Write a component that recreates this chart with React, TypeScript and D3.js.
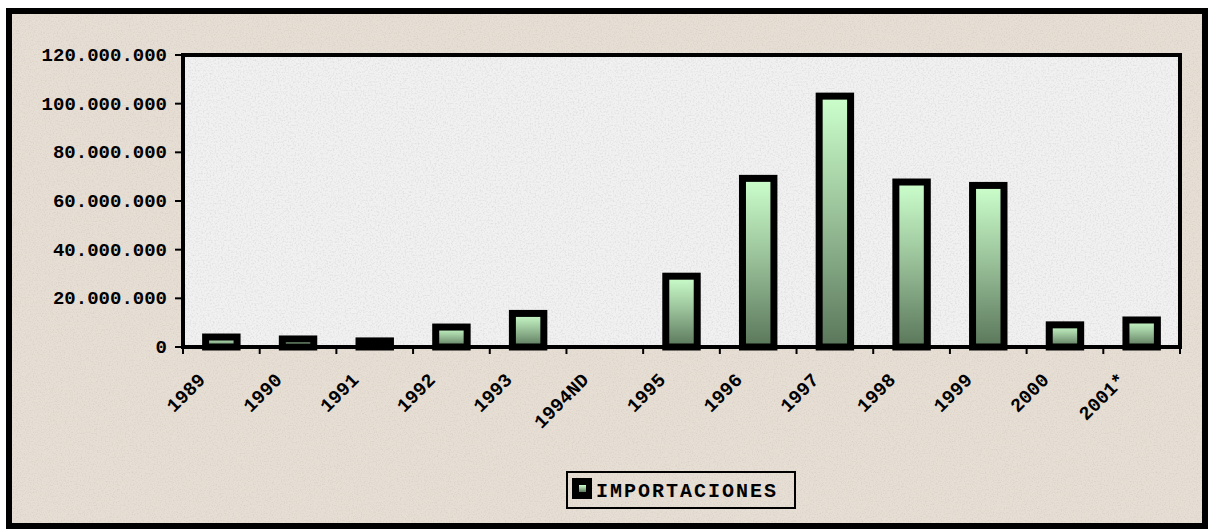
import React from "react";
import * as d3 from "d3";

const categories = ["1989", "1990", "1991", "1992", "1993", "1994ND", "1995", "1996", "1997", "1998", "1999", "2000", "2001*"];
const importaciones = [4100000, 3300000, 2500000, 8200000, 13800000, 0, 29100000, 69300000, 103100000, 67800000, 66400000, 9100000, 11100000];
const yTicks = [0, 20000000, 40000000, 60000000, 80000000, 100000000, 120000000];
const seriesName = "IMPORTACIONES";

const W = 1214;
const H = 529;
const plot = { left: 183, right: 1180, top: 55, bottom: 347 };
const FONT = "'Liberation Mono', 'DejaVu Sans Mono', monospace";

const locale = d3.formatLocale({ decimal: ",", thousands: ".", grouping: [3], currency: ["", ""] });
const fmt = locale.format(",d");

export default function App() {
  const x = d3.scaleBand<string>().domain(categories).range([plot.left, plot.right]).padding(0);
  const y = d3.scaleLinear().domain([0, 120000000]).range([plot.bottom, plot.top]);
  const bw = x.bandwidth() * 0.41;

  return (
    <svg width={W} height={H} style={{ position: "absolute", left: 0, top: 0 }}>
      <defs>
        <linearGradient id="barGrad" x1="0" y1="0" x2="0" y2="1">
          <stop offset="0" stopColor="#ccffcc" />
          <stop offset="0.45" stopColor="#9cc49c" />
          <stop offset="1" stopColor="#5a765a" />
        </linearGradient>
        <filter id="noiseOuter" x="0" y="0" width="100%" height="100%">
          <feTurbulence type="fractalNoise" baseFrequency="0.75" numOctaves="2" seed="3" result="t" />
          <feColorMatrix type="matrix" values="0 0 0 0 0.55  0 0 0 0 0.47  0 0 0 0 0.40  0 0 0 -2.2 1.25" />
        </filter>
        <filter id="noisePlot" x="0" y="0" width="100%" height="100%">
          <feTurbulence type="fractalNoise" baseFrequency="0.6" numOctaves="2" seed="7" result="t" />
          <feColorMatrix type="matrix" values="0 0 0 0 0.6  0 0 0 0 0.6  0 0 0 0 0.6  0 0 0 -2.4 1.35" />
        </filter>
      </defs>

      {/* outer background */}
      <rect x={0} y={0} width={W} height={H} fill="#ffffff" />
      <rect x={9} y={11} width={1196} height={515} fill="#e7dfd5" />
      <rect x={9} y={11} width={1196} height={515} filter="url(#noiseOuter)" opacity={0.35} />
      <rect x={9} y={11} width={1196} height={515} fill="none" stroke="#000" strokeWidth={6} />

      {/* plot area */}
      <rect x={plot.left} y={plot.top} width={plot.right - plot.left} height={plot.bottom - plot.top} fill="#f1f1f1" />
      <rect x={plot.left} y={plot.top} width={plot.right - plot.left} height={plot.bottom - plot.top} filter="url(#noisePlot)" opacity={0.45} />
      <rect x={plot.left} y={plot.top} width={plot.right - plot.left} height={plot.bottom - plot.top} fill="none" stroke="#000" strokeWidth={4} />

      {/* y axis ticks and labels */}
      {yTicks.map((t) => (
        <g key={t}>
          <line x1={plot.left - 8} x2={plot.left} y1={y(t)} y2={y(t)} stroke="#000" strokeWidth={2} />
          <text
            x={167}
            y={y(t)}
            dy="0.32em"
            textAnchor="end"
            fontFamily={FONT}
            fontWeight="bold"
            fontSize={19}
            fill="#000"
          >
            {fmt(t)}
          </text>
        </g>
      ))}

      {/* bars */}
      {categories.map((c, i) => {
        const v = importaciones[i];
        if (v <= 0) return null;
        const cx = (x(c) as number) + x.bandwidth() / 2;
        return (
          <rect
            key={c}
            x={cx - bw / 2}
            y={y(v)}
            width={bw}
            height={y(0) - y(v)}
            fill="url(#barGrad)"
            stroke="#000"
            strokeWidth={7}
          />
        );
      })}

      {/* x axis */}
      <line x1={plot.left} x2={plot.right} y1={plot.bottom} y2={plot.bottom} stroke="#000" strokeWidth={4} />
      {categories.concat([""]).map((c, i) => {
        const xx = plot.left + i * x.bandwidth();
        return <line key={"t" + i} x1={xx} x2={xx} y1={plot.bottom} y2={plot.bottom + 7} stroke="#000" strokeWidth={2} />;
      })}
      {categories.map((c) => {
        const cx = (x(c) as number) + x.bandwidth() / 2;
        return (
          <text
            key={"l" + c}
            transform={`translate(${cx - 15},${381}) rotate(-45)`}
            textAnchor="end"
            fontFamily={FONT}
            fontWeight="bold"
            fontSize={19}
            fill="#000"
          >
            {c}
          </text>
        );
      })}

      {/* legend */}
      <rect x={567} y={472} width={228} height={36} fill="none" stroke="#000" strokeWidth={2} />
      <rect x={572} y={478} width={20} height={21} fill="#000" />
      <rect x={579} y={485} width={7} height={7} fill="url(#barGrad)" />
      <text x={596} y={497} fontFamily={FONT} fontWeight="bold" fontSize={20} letterSpacing={2} fill="#000">
        {seriesName}
      </text>
    </svg>
  );
}
